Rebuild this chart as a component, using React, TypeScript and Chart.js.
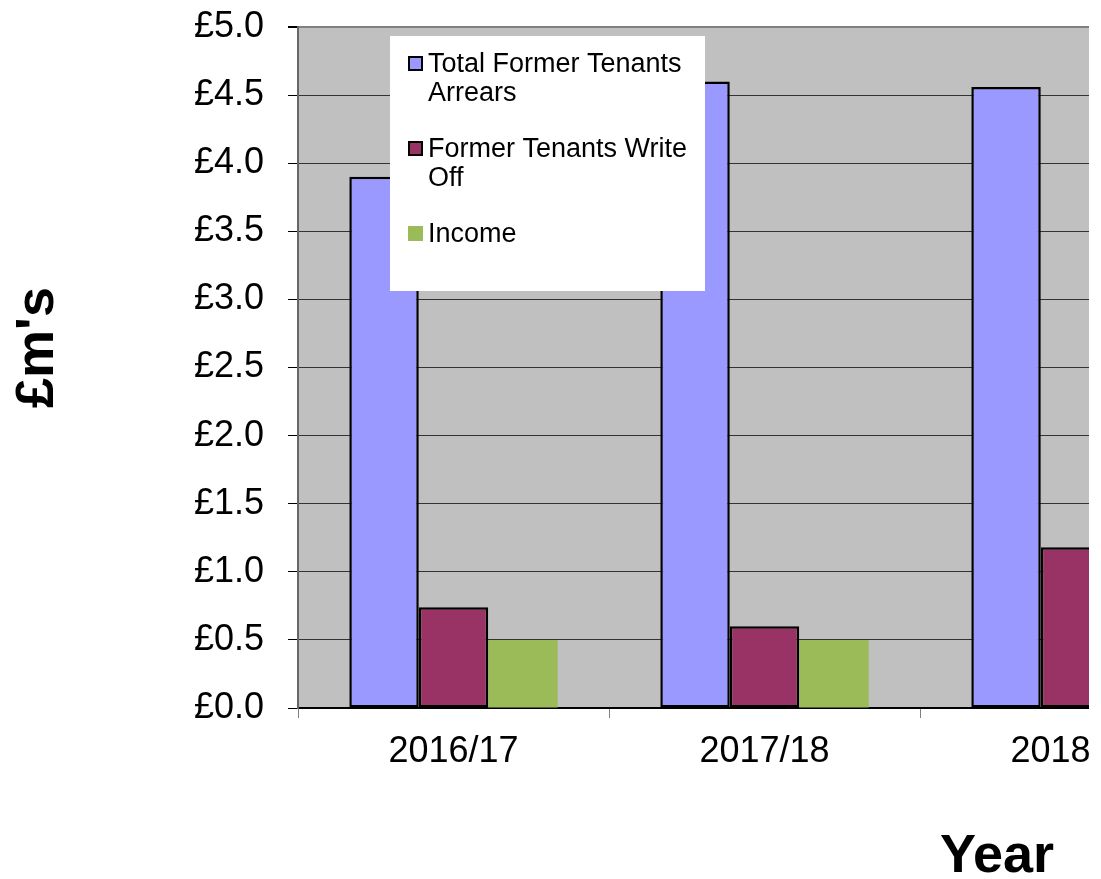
import React, { useEffect, useRef } from "react";
import { Chart, registerables } from "chart.js";

Chart.register(...registerables);

// ---- data ----
const categories = ["2016/17", "2017/18", "2018/19"];
const arrears = [3.9, 4.6, 4.56];
const writeOff = [0.74, 0.6, 1.18];
const income = [0.5, 0.5, 0.5];
const seriesNames = ["Total Former Tenants Arrears", "Former Tenants Write Off", "Income"];
const legendLines = [["Total Former Tenants", "Arrears"], ["Former Tenants Write", "Off"], ["Income"]];
const yMin = 0;
const yMax = 5;
const yStep = 0.5;
const yTitle = "£m's";
const xTitle = "Year";

const FONT = "'Liberation Sans', Arial, sans-serif";

const backgroundPlugin = {
  id: "plotBg",
  beforeDraw(chart: any) {
    const { ctx, chartArea } = chart;
    ctx.save();
    ctx.fillStyle = "#C0C0C0";
    ctx.fillRect(chartArea.left, chartArea.top, chartArea.right - chartArea.left, chartArea.bottom - chartArea.top);
    ctx.restore();
  },
};

const overlayPlugin = {
  id: "overlay",
  afterDraw(chart: any) {
    const { ctx, chartArea } = chart;
    ctx.save();
    // legend box
    const bx = chartArea.left + 92;
    const by = chartArea.top + 9;
    ctx.fillStyle = "#ffffff";
    ctx.fillRect(bx, by, 315, 255);
    ctx.font = `27px ${FONT}`;
    ctx.textAlign = "left";
    ctx.textBaseline = "alphabetic";
    chart.data.datasets.forEach((ds: any, i: number) => {
      const base = by + 36 + i * 85;
      const mx = bx + 18;
      const my = base - 16;
      ctx.fillStyle = ds.backgroundColor;
      ctx.fillRect(mx, my, 15, 15);
      if (ds.borderWidth > 0) {
        ctx.strokeStyle = "#000";
        ctx.lineWidth = 2;
        ctx.strokeRect(mx + 1, my + 1, 13, 13);
      }
      ctx.fillStyle = "#000";
      legendLines[i].forEach((line, j) => {
        ctx.fillText(line, bx + 38, base + j * 29);
      });
    });
    // axis titles
    ctx.fillStyle = "#000";
    ctx.font = `bold 54px ${FONT}`;
    ctx.textAlign = "center";
    ctx.textBaseline = "alphabetic";
    ctx.fillText(xTitle, chartArea.left + 699, chartArea.bottom + 164);
    ctx.save();
    ctx.translate(53, (chartArea.top + chartArea.bottom) / 2 - 20);
    ctx.rotate(-Math.PI / 2);
    ctx.fillText(yTitle, 0, 0);
    ctx.restore();
    ctx.restore();
  },
};

export default function App() {
  const ref = useRef<HTMLCanvasElement>(null);
  useEffect(() => {
    const chart = new Chart(ref.current as HTMLCanvasElement, {
      type: "bar",
      data: {
        labels: categories,
        datasets: [
          {
            label: seriesNames[0],
            data: arrears,
            backgroundColor: "#9999FF",
            borderColor: "#000000",
            borderWidth: 2.5,
            borderSkipped: false,
          },
          {
            label: seriesNames[1],
            data: writeOff,
            backgroundColor: "#993366",
            borderColor: "#000000",
            borderWidth: 2.5,
            borderSkipped: false,
          },
          {
            label: seriesNames[2],
            data: income,
            backgroundColor: "#9BBB59",
            borderWidth: 0,
          },
        ],
      },
      options: {
        responsive: false,
        animation: false,
        layout: { padding: { top: 27, right: 9, left: 0, bottom: 0 } },
        plugins: {
          legend: { display: false },
          tooltip: { enabled: false },
        },
        datasets: {
          bar: { categoryPercentage: 0.67, barPercentage: 1 },
        },
        scales: {
          x: {
            grid: {
              drawOnChartArea: false,
              drawTicks: true,
              tickLength: 10,
              color: "#808080",
              offset: true,
            },
            border: { color: "#000", width: 2 },
            ticks: {
              color: "#000",
              font: { family: FONT, size: 36 },
              padding: 12,
              maxRotation: 0,
            },
            afterFit(scale: any) {
              scale.height = 171;
              scale.paddingLeft = 0;
              scale.paddingRight = 0;
            },
          },
          y: {
            min: yMin,
            max: yMax,
            grid: {
              color: (c: any) => (c.tick && c.tick.value === yMax ? "#808080" : "#333333"),
              lineWidth: (c: any) => (c.tick && c.tick.value === yMax ? 2 : 1),
              tickColor: "#000",
              tickLength: 10,
            },
            border: { color: "#666666", width: 2 },
            ticks: {
              stepSize: yStep,
              color: "#000",
              font: { family: FONT, size: 36 },
              padding: 24,
              callback: (v: any) => "£" + Number(v).toFixed(1),
            },
            afterFit(scale: any) {
              scale.width = 298;
              scale.paddingTop = 0;
              scale.paddingBottom = 0;
            },
          },
        },
      },
      plugins: [backgroundPlugin, overlayPlugin],
    } as any);
    return () => chart.destroy();
  }, []);
  return (
    <div
      style={{
        position: "fixed",
        left: 0,
        top: 0,
        width: 1089,
        height: 879,
        overflow: "hidden",
        background: "#fff",
      }}
    >
      <canvas ref={ref} width={1240} height={879} style={{ display: "block", width: 1240, height: 879 }} />
    </div>
  );
}
